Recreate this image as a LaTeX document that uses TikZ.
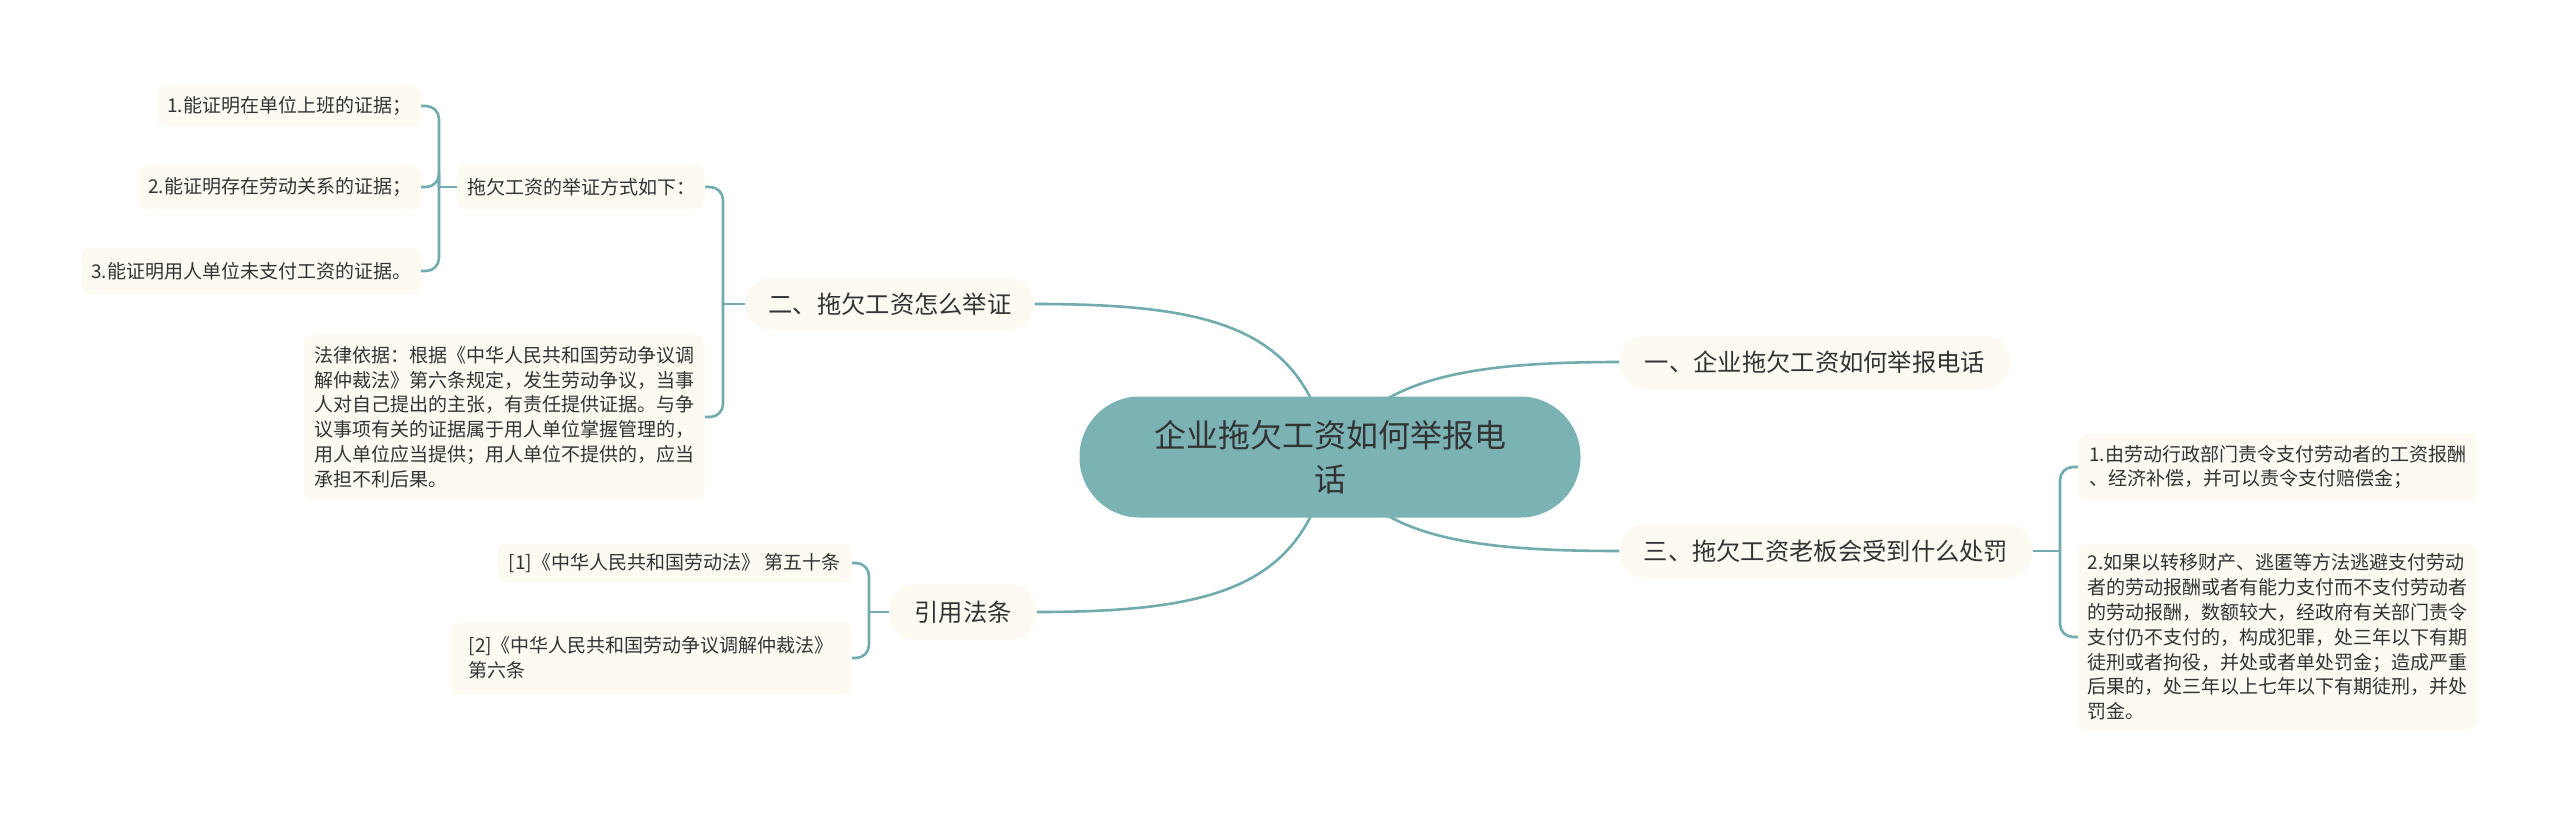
\documentclass[tikz,border=0pt]{standalone}
\usepackage{fontspec}
\newfontfamily\cjk{Noto Sans CJK SC}
\definecolor{lineteal}{HTML}{72ABAE}
\definecolor{cenfill}{HTML}{7BB3B5}
\definecolor{leafbg}{HTML}{FCFAF1}
\definecolor{txt}{HTML}{333333}
\pgfdeclarelayer{bg}
\pgfsetlayers{bg,main}
\begin{document}
\begin{tikzpicture}[x=1pt,y=-1pt,
  conn/.style={draw=lineteal, line width=2.6pt},
  bracket/.style={conn, rounded corners=13pt},
  leaf/.style={fill=leafbg, rounded corners=9pt, inner xsep=5pt, inner ysep=3pt,
    font=\cjk\fontsize{19}{24.8}\selectfont, text=txt, align=left},
  branch/.style={fill=leafbg, rounded corners=26pt, inner sep=0pt,
    font=\cjk\fontsize{24.3}{30}\selectfont, text=txt},
  central/.style={fill=cenfill, rounded corners=60pt, inner sep=0pt,
    font=\cjk\fontsize{32}{44}\selectfont, text=txt, align=center}]
\useasboundingbox (0,0) rectangle (2560,815);

% central
\node[central, minimum width=501pt, minimum height=121pt] (cen) at (1330,457)
  {企业拖欠工资如何举报电\\话};

% main branches
\node[branch, minimum width=391pt, minimum height=53pt] (yi) at (1815,362) {一、企业拖欠工资如何举报电话};
\node[branch, minimum width=413pt, minimum height=54pt] (san) at (1826,551) {三、拖欠工资老板会受到什么处罚};
\node[branch, minimum width=289pt, minimum height=52pt] (er) at (890,304) {二、拖欠工资怎么举证};
\node[branch, minimum width=147pt, minimum height=56pt] (yf) at (963,612) {引用法条};

% left subtree of 二
\node[leaf, minimum width=248pt, minimum height=44pt] (jz) at (581,187) {拖欠工资的举证方式如下：};
\node[leaf, anchor=east, minimum width=263pt, minimum height=42pt] (l1) at (421,106) {1.能证明在单位上班的证据；};
\node[leaf, anchor=east, minimum width=282pt, minimum height=44pt] (l2) at (421,187) {2.能证明存在劳动关系的证据；};
\node[leaf, anchor=east, minimum width=339pt, minimum height=46pt] (l3) at (421,271) {3.能证明用人单位未支付工资的证据。};
\node[leaf, anchor=east, minimum width=401pt, minimum height=165pt] (legal) at (705,417)
  {法律依据：根据《中华人民共和国劳动争议调\\
   解仲裁法》第六条规定，发生劳动争议，当事\\
   人对自己提出的主张，有责任提供证据。与争\\
   议事项有关的证据属于用人单位掌握管理的，\\
   用人单位应当提供；用人单位不提供的，应当\\
   承担不利后果。};

% 引用法条 children
\node[leaf, anchor=east, minimum width=354pt, minimum height=39pt] (c1) at (852,563) {[1]《中华人民共和国劳动法》 第五十条};
\node[leaf, anchor=east, minimum width=401pt, minimum height=72pt] (c2) at (852,658)
  {[2]《中华人民共和国劳动争议调解仲裁法》\\第六条};

% 三 children
\node[leaf, anchor=west, minimum width=399pt, minimum height=66pt] (r1) at (2078,467)
  {1.由劳动行政部门责令支付劳动者的工资报酬\\、经济补偿，并可以责令支付赔偿金；};
\node[leaf, anchor=west, minimum width=399pt, minimum height=186pt] (r2) at (2078,637)
  {2.如果以转移财产、逃匿等方法逃避支付劳动\\
   者的劳动报酬或者有能力支付而不支付劳动者\\
   的劳动报酬，数额较大，经政府有关部门责令\\
   支付仍不支付的，构成犯罪，处三年以下有期\\
   徒刑或者拘役，并处或者单处罚金；造成严重\\
   后果的，处三年以上七年以下有期徒刑，并处\\
   罚金。};

% bracket junctions
\coordinate (b1) at (439,187);
\coordinate (b2) at (723,304);
\coordinate (b3) at (869,612);
\coordinate (b4) at (2060,551);

\begin{pgfonlayer}{bg}
\fill[white] (0,0) rectangle (2560,815);
% central curves
\draw[conn] (cen.center) .. controls (1372,380) and (1460,362) .. (yi.west);
\draw[conn] (cen.center) .. controls (1372,535) and (1460,551) .. (san.west);
\draw[conn] (cen.center) .. controls (1305,330) and (1220,304) .. (er.east);
\draw[conn] (cen.center) .. controls (1305,585) and (1220,612) .. (yf.east);
% brackets
\draw[conn] (er.west) -- (b2);
\draw[bracket] (b2) |- (jz.east);
\draw[bracket] (b2) |- (legal.east);
\draw[conn] (jz.west) -- (b1);
\draw[bracket] (b1) |- (l1.east);
\draw[bracket] (b1) |- (l2.east);
\draw[bracket] (b1) |- (l3.east);
\draw[conn] (yf.west) -- (b3);
\draw[bracket] (b3) |- (c1.east);
\draw[bracket] (b3) |- (c2.east);
\draw[conn] (san.east) -- (b4);
\draw[bracket] (b4) |- (r1.west);
\draw[bracket] (b4) |- (r2.west);
\end{pgfonlayer}
\end{tikzpicture}
\end{document}
